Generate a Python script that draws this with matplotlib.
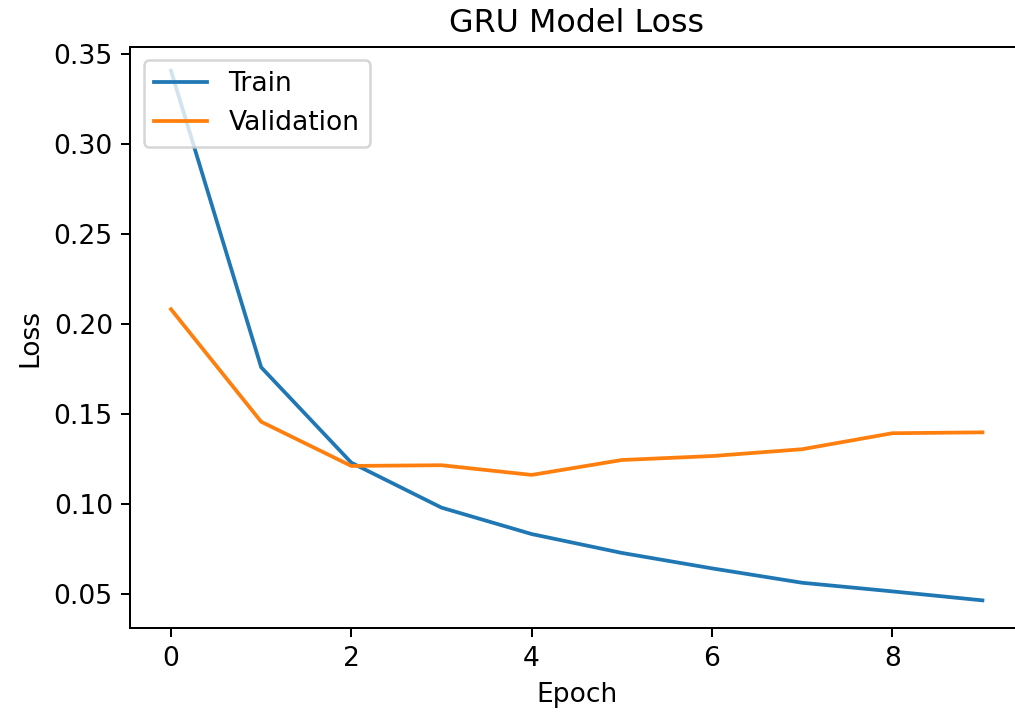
import numpy as np
import matplotlib
matplotlib.use('Agg')
import matplotlib.pyplot as plt

# valeurs
epochs = [0, 1, 2, 3, 4, 5, 6, 7, 8, 9]
train_loss = [0.3409, 0.1759, 0.1228, 0.0978, 0.0831, 0.0726, 0.0640, 0.0560, 0.0512, 0.0462]
val_loss = [0.2082, 0.1456, 0.1210, 0.1214, 0.1160, 0.1243, 0.1265, 0.1303, 0.1392, 0.1397]

# police un peu plus grande que le défaut
plt.rcParams['font.size'] = 10.6
plt.rcParams['axes.titlesize'] = 12.7

fig = plt.figure(figsize=(1015 / 180, 718 / 180), dpi=180)
ax = fig.add_axes([0.1285, 0.1253, 0.8794, 0.8092])

ax.plot(epochs, train_loss, label='Train')
ax.plot(epochs, val_loss, label='Validation')
ax.set_ylim(0.0308, 0.3541)
ax.set_title('GRU Model Loss')
ax.set_xlabel('Epoch')
ax.set_ylabel('Loss')
ax.legend(loc='upper left')

plt.savefig('out.png', dpi=180)
